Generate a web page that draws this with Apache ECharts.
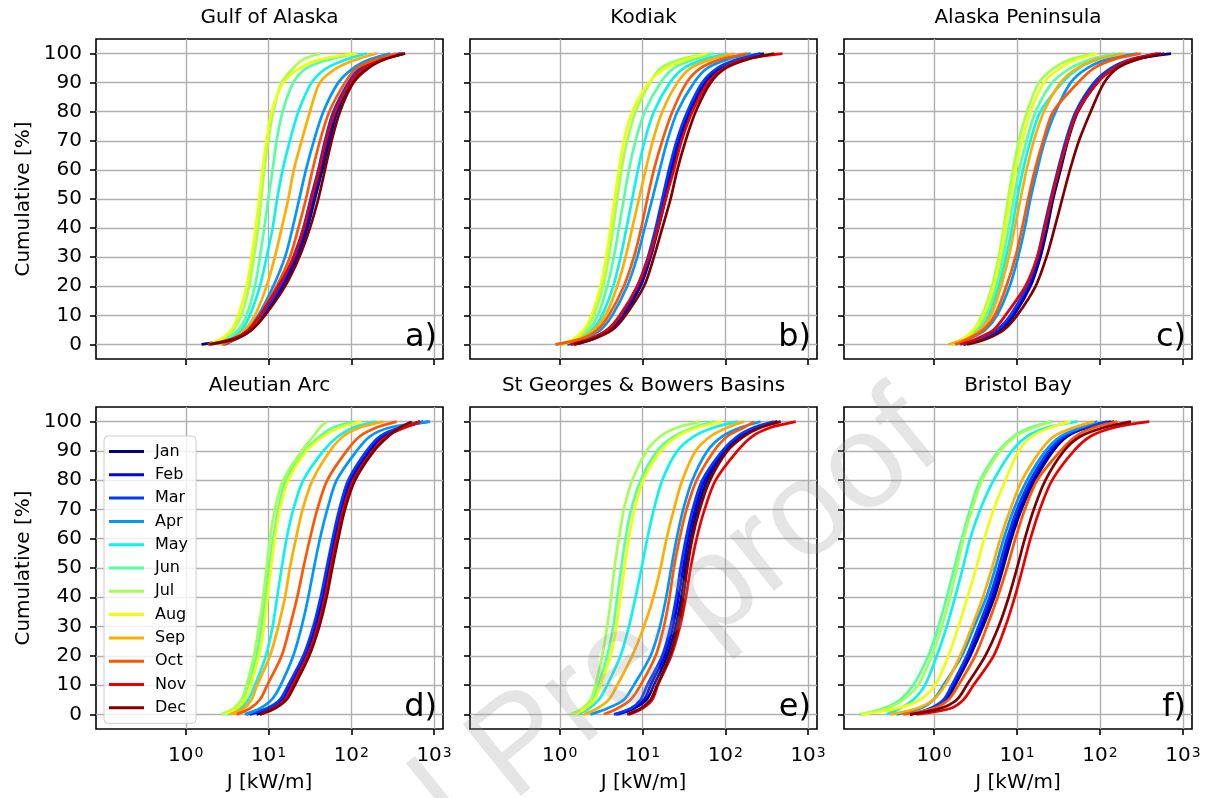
<!DOCTYPE html>
<html>
<head>
<meta charset="utf-8">
<script src="https://cdn.jsdelivr.net/npm/echarts@6/dist/echarts.min.js"></script>
<style>
html,body{margin:0;padding:0;background:#ffffff;}
#chart{width:1208px;height:798px;}
</style>
</head>
<body>
<div id="chart"></div>
<script>
// ---------------- data ----------------
const months = ['Jan','Feb','Mar','Apr','May','Jun','Jul','Aug','Sep','Oct','Nov','Dec'];
const cumulativeLevels = [0, 2, 5, 10, 20, 30, 40, 50, 60, 70, 80, 90, 95, 98, 100];
const xTickValues = [1, 10, 100, 1000];
const yTickValues = [0, 10, 20, 30, 40, 50, 60, 70, 80, 90, 100];
const panelTitles = ['Gulf of Alaska', 'Kodiak', 'Alaska Peninsula', 'Aleutian Arc', 'St Georges & Bowers Basins', 'Bristol Bay'];
const panelLetters = ['a)', 'b)', 'c)', 'd)', 'e)', 'f)'];

// J [kW/m] at each cumulative level, rows Jan..Dec
const gulfOfAlaska = [
  [1.55, 3.74, 5.94, 8.61, 15.0, 22.2, 29.4, 36.3, 44.6, 54.2, 67.7, 101, 153, 244, 426],
  [2.83, 4.10, 6.22, 8.61, 14.4, 21.4, 28.3, 34.7, 41.8, 51.3, 65.3, 96.4, 140, 222, 406],
  [2.96, 4.10, 5.94, 8.23, 13.7, 19.9, 26.3, 32.2, 39.9, 48.0, 60.6, 92.0, 127, 202, 388],
  [2.70, 3.74, 5.42, 7.50, 11.4, 15.8, 19.5, 23.5, 28.3, 35.3, 45.9, 69.6, 106, 168, 294],
  [2.35, 3.41, 4.71, 5.94, 7.85, 9.46, 11.2, 12.7, 14.8, 18.1, 22.9, 33.1, 50.3, 87.8, 153],
  [2.14, 3.10, 4.30, 5.42, 6.84, 7.85, 8.87, 9.91, 11.2, 12.5, 14.8, 19.9, 28.8, 55.2, 116],
  [2.04, 2.83, 3.74, 4.71, 5.83, 6.65, 7.50, 8.15, 8.87, 9.91, 11.4, 14.4, 19.9, 26.3, 41.8],
  [1.86, 2.70, 3.57, 4.30, 5.42, 6.22, 6.97, 7.71, 8.46, 9.46, 10.9, 15.0, 23.9, 41.8, 116],
  [2.58, 3.74, 5.17, 6.84, 9.46, 11.9, 14.4, 17.3, 20.2, 25.1, 31.6, 41.8, 66.5, 116, 202],
  [2.83, 4.10, 5.94, 7.85, 12.5, 18.1, 22.9, 28.3, 34.0, 41.8, 54.2, 83.8, 116, 202, 353],
  [1.86, 3.74, 5.68, 7.85, 13.1, 20.2, 26.7, 33.1, 41.0, 49.4, 63.4, 96.4, 142, 244, 446],
  [1.95, 4.10, 6.22, 9.03, 15.8, 23.5, 31.6, 39.9, 48.0, 57.8, 72.9, 106, 161, 255, 446]
];
const kodiak = [
  [1.48, 2.58, 4.10, 5.94, 9.46, 12.5, 15.5, 19.0, 23.1, 28.8, 38.1, 57.8, 87.8, 153, 294],
  [1.35, 2.46, 3.91, 5.68, 9.03, 12.2, 15.0, 18.1, 21.8, 27.0, 36.3, 55.2, 83.8, 146, 267],
  [1.23, 2.35, 3.74, 5.42, 8.61, 11.6, 14.4, 17.3, 20.8, 25.8, 34.7, 52.7, 80.0, 140, 267],
  [1.02, 1.95, 3.10, 4.30, 6.52, 8.61, 10.6, 13.1, 16.1, 19.9, 26.3, 41.8, 60.6, 106, 202],
  [0.887, 1.70, 2.46, 3.25, 4.42, 5.42, 6.40, 7.50, 8.79, 10.6, 13.7, 21.4, 31.6, 55.2, 106],
  [1.02, 1.62, 2.24, 2.88, 3.74, 4.50, 5.17, 5.94, 6.84, 8.23, 10.6, 16.5, 23.9, 41.8, 72.9],
  [1.12, 1.55, 2.04, 2.58, 3.34, 3.91, 4.42, 4.94, 5.57, 6.52, 8.23, 12.3, 16.5, 28.8, 60.6],
  [1.02, 1.48, 1.95, 2.42, 3.10, 3.63, 4.10, 4.58, 5.17, 5.94, 7.50, 11.9, 19.0, 34.7, 60.6],
  [0.929, 1.78, 2.58, 3.57, 4.94, 6.22, 7.50, 9.03, 10.9, 13.3, 17.3, 26.3, 38.1, 66.5, 127],
  [0.887, 1.86, 2.83, 3.91, 5.94, 7.85, 9.64, 11.4, 13.7, 17.3, 22.9, 34.0, 50.3, 87.8, 185],
  [1.35, 2.35, 3.74, 5.32, 8.61, 11.9, 15.3, 19.0, 23.9, 29.6, 39.9, 61.7, 96.4, 168, 490],
  [1.48, 2.58, 4.30, 6.22, 10.4, 13.7, 17.3, 21.8, 26.3, 33.1, 43.8, 66.5, 101, 185, 388]
];
const alaskaPeninsula = [
  [2.26, 3.95, 6.28, 9.12, 14.5, 19.1, 23.1, 27.2, 33.4, 41.0, 54.2, 92.9, 148, 258, 716],
  [2.26, 3.78, 6.00, 8.71, 13.8, 18.3, 22.0, 26.0, 31.9, 39.5, 52.2, 88.7, 141, 246, 542],
  [2.26, 3.60, 5.73, 8.30, 13.2, 17.5, 21.0, 25.3, 31.0, 38.5, 50.8, 84.6, 135, 235, 494],
  [1.88, 2.72, 4.14, 5.73, 8.15, 10.3, 12.4, 14.5, 17.5, 21.6, 29.1, 44.2, 70.3, 123, 283],
  [1.71, 2.48, 3.44, 4.54, 6.00, 7.36, 8.71, 10.0, 11.8, 14.5, 19.1, 35.0, 55.7, 92.9, 178],
  [1.64, 2.37, 3.28, 4.26, 5.62, 6.78, 7.93, 9.12, 10.6, 13.0, 16.7, 26.5, 44.2, 77.1, 148],
  [1.64, 2.26, 2.99, 3.78, 4.99, 6.00, 6.90, 7.78, 8.95, 10.5, 13.2, 18.3, 27.8, 44.2, 84.6],
  [1.56, 2.26, 2.99, 3.95, 5.22, 6.28, 7.23, 8.30, 9.55, 11.5, 14.5, 21.0, 33.4, 53.2, 92.9],
  [1.49, 2.48, 3.60, 4.84, 6.40, 7.93, 9.37, 11.0, 13.0, 15.9, 21.0, 33.4, 53.2, 92.9, 195],
  [1.79, 2.60, 3.88, 5.37, 7.43, 9.55, 11.5, 13.6, 16.4, 20.6, 27.2, 54.2, 84.6, 148, 310],
  [2.06, 3.28, 5.22, 7.23, 12.6, 17.5, 21.6, 26.0, 31.9, 40.3, 53.2, 92.9, 148, 246, 494],
  [2.48, 4.34, 6.90, 10.0, 16.7, 22.6, 28.3, 35.0, 43.4, 55.7, 77.1, 112, 162, 283, 594]
];
const aleutianArc = [
  [7.16, 10.9, 15.8, 19.3, 28.8, 38.1, 46.7, 54.2, 64.0, 77.1, 101, 168, 244, 426, 677],
  [5.94, 9.91, 14.4, 18.1, 27.5, 36.3, 44.6, 52.2, 61.7, 74.3, 96.4, 161, 233, 406, 743],
  [5.42, 9.46, 13.7, 17.3, 26.3, 34.7, 42.6, 50.3, 59.4, 71.6, 92.0, 153, 222, 388, 853],
  [5.17, 7.85, 10.9, 14.0, 19.9, 25.1, 30.2, 35.3, 41.8, 51.3, 66.5, 116, 168, 294, 895],
  [3.10, 4.50, 5.68, 6.84, 9.29, 11.2, 12.7, 14.4, 16.5, 19.9, 26.3, 45.9, 69.6, 106, 202],
  [2.83, 3.91, 4.94, 5.83, 7.16, 8.23, 9.20, 10.2, 11.4, 13.1, 16.2, 27.5, 41.8, 60.6, 106],
  [2.70, 3.74, 4.71, 5.42, 6.65, 7.64, 8.61, 9.46, 10.4, 11.9, 15.0, 25.1, 34.7, 41.8, 50.3],
  [2.96, 4.10, 5.17, 6.05, 7.64, 8.79, 9.72, 10.7, 11.9, 13.7, 17.3, 28.8, 45.9, 72.9, 133],
  [3.41, 4.94, 6.22, 7.29, 10.4, 13.1, 15.8, 18.1, 21.4, 25.8, 34.0, 55.2, 80.0, 127, 244],
  [4.10, 5.94, 7.85, 9.64, 14.4, 18.1, 22.2, 26.3, 31.6, 38.8, 51.3, 87.8, 127, 202, 353],
  [7.85, 11.4, 15.8, 19.5, 29.4, 39.2, 48.0, 56.2, 66.5, 80.0, 106, 181, 267, 446, 677],
  [7.85, 11.9, 16.5, 20.8, 31.0, 41.0, 50.3, 58.9, 69.6, 83.8, 111, 188, 281, 388, 537]
];
const stGeorgesBowers = [
  [4.94, 7.85, 11.2, 13.7, 19.9, 25.1, 29.4, 33.1, 38.1, 45.9, 60.6, 101, 153, 244, 426],
  [4.71, 7.50, 10.4, 12.5, 18.5, 23.3, 27.2, 31.0, 35.6, 43.0, 56.2, 96.4, 146, 233, 426],
  [4.50, 7.16, 9.46, 11.4, 17.3, 21.8, 25.5, 28.8, 33.4, 40.3, 52.7, 92.0, 140, 222, 388],
  [2.35, 3.74, 5.94, 7.85, 12.5, 16.2, 19.3, 22.2, 25.8, 31.0, 39.9, 60.6, 92.0, 153, 267],
  [1.62, 2.24, 2.96, 3.74, 5.42, 6.84, 8.23, 9.72, 11.4, 13.7, 17.3, 26.3, 41.8, 72.9, 140],
  [1.41, 1.95, 2.46, 2.91, 3.74, 4.42, 4.94, 5.52, 6.22, 7.29, 9.46, 15.0, 23.9, 41.8, 72.9],
  [1.35, 1.86, 2.35, 2.70, 3.25, 3.74, 4.18, 4.58, 5.17, 5.94, 7.50, 11.2, 16.5, 26.3, 50.3],
  [1.55, 2.04, 2.63, 3.10, 4.10, 4.84, 5.42, 6.05, 6.84, 8.00, 10.2, 16.5, 26.3, 45.9, 92.0],
  [1.95, 2.83, 3.91, 4.94, 7.50, 10.4, 13.5, 16.5, 19.5, 23.9, 30.2, 43.8, 66.5, 106, 168],
  [3.41, 4.94, 7.16, 9.46, 14.4, 18.1, 21.2, 23.9, 28.0, 34.0, 45.0, 72.9, 106, 168, 222],
  [6.84, 9.91, 13.1, 15.3, 22.2, 28.3, 33.4, 38.1, 45.0, 56.2, 76.4, 140, 212, 353, 710],
  [6.52, 9.46, 12.5, 15.0, 21.4, 26.7, 31.0, 34.7, 39.9, 49.0, 65.3, 106, 168, 267, 467]
];
const bristolBay = [
  [0.513, 0.982, 1.42, 1.79, 2.72, 3.88, 5.32, 6.78, 8.54, 11.3, 16.4, 27.2, 40.3, 70.3, 148],
  [0.513, 0.937, 1.36, 1.71, 2.60, 3.67, 4.99, 6.40, 8.07, 10.7, 15.5, 25.3, 38.5, 67.1, 135],
  [0.513, 0.895, 1.30, 1.64, 2.48, 3.44, 4.67, 6.00, 7.57, 10.0, 14.5, 24.2, 36.7, 64.0, 123],
  [0.353, 0.677, 0.982, 1.30, 2.16, 3.05, 4.26, 5.47, 6.90, 9.12, 13.2, 22.0, 33.4, 58.3, 92.9],
  [0.268, 0.388, 0.562, 0.778, 1.08, 1.42, 1.79, 2.22, 2.72, 3.60, 5.22, 8.71, 13.2, 23.1, 53.2],
  [0.127, 0.244, 0.388, 0.562, 0.853, 1.13, 1.42, 1.75, 2.16, 2.72, 3.60, 6.00, 9.12, 14.5, 26.5],
  [0.140, 0.268, 0.426, 0.646, 0.937, 1.24, 1.56, 1.88, 2.26, 2.86, 3.78, 6.28, 9.55, 15.9, 25.3],
  [0.133, 0.353, 0.677, 1.03, 1.49, 1.97, 2.53, 3.22, 4.03, 5.22, 7.23, 10.5, 15.2, 25.3, 44.2],
  [0.294, 0.617, 0.982, 1.36, 2.06, 2.86, 3.88, 4.99, 6.28, 8.30, 11.5, 19.1, 27.8, 48.4, 84.6],
  [0.426, 0.982, 1.49, 1.97, 3.13, 4.34, 5.83, 7.57, 9.55, 12.4, 17.5, 33.4, 50.8, 84.6, 162],
  [0.617, 1.56, 2.26, 2.99, 5.22, 7.23, 9.37, 11.7, 14.5, 18.8, 26.5, 48.4, 77.1, 148, 392],
  [0.513, 1.18, 1.88, 2.48, 4.14, 6.00, 7.93, 10.0, 12.4, 15.9, 22.0, 36.7, 58.3, 112, 235]
];
const panelData = [gulfOfAlaska, kodiak, alaskaPeninsula, aleutianArc, stGeorgesBowers, bristolBay];

// ---------------- styles / layout ----------------
const monthColors = ['#000080','#0000e9','#003aff','#0097ff','#0bf3ec','#56ffa1',
                     '#a1ff56','#ecff0b','#ffad00','#ff5700','#e90100','#800000'];
const FONT = '"DejaVu Sans", "Noto Sans", sans-serif';
const grids = [
  {left: 96,  top: 39,  width: 347, height: 320},
  {left: 470, top: 39,  width: 347, height: 320},
  {left: 844, top: 39,  width: 348, height: 320},
  {left: 96,  top: 407, width: 347, height: 322},
  {left: 470, top: 407, width: 347, height: 322},
  {left: 844, top: 407, width: 348, height: 322}
];
const X_MIN = 0.0822, X_MAX = 1282;

const option = {
  animation: false,
  backgroundColor: '#ffffff',
  grid: grids.map(g => Object.assign({
    show: true, borderColor: '#000', borderWidth: 1.6, backgroundColor: 'transparent',
    containLabel: false, outerBoundsMode: 'none'
  }, g)),
  xAxis: grids.map((g, i) => ({
    type: 'log', logBase: 10, gridIndex: i, min: X_MIN, max: X_MAX,
    axisLine: {show: false, onZero: false},
    axisTick: {show: true, length: 6, inside: false, customValues: xTickValues,
               lineStyle: {color: '#000', width: 1.6}},
    minorTick: {show: false},
    splitLine: {show: true, lineStyle: {color: '#b0b0b0', width: 1.4}},
    axisLabel: {
      show: i >= 3, customValues: xTickValues, margin: 17,
      color: '#000', fontSize: 20, fontFamily: FONT,
      formatter: v => '10{s|' + Math.round(Math.log10(v)) + '}',
      rich: {s: {fontSize: 14, fontFamily: FONT, color: '#000', verticalAlign: 'top', padding: [0, 0, 0, 1]}}
    },
    name: i >= 3 ? 'J [kW/m]' : '',
    nameLocation: 'middle', nameGap: 44,
    nameTextStyle: {fontSize: 20, fontFamily: FONT, color: '#000'}
  })),
  yAxis: grids.map((g, i) => ({
    type: 'value', gridIndex: i, min: -5, max: 105,
    axisLine: {show: false, onZero: false},
    axisTick: {show: true, length: 6, inside: false, customValues: yTickValues,
               lineStyle: {color: '#000', width: 1.6}},
    splitLine: {show: true, lineStyle: {color: '#b0b0b0', width: 1.4}},
    axisLabel: {
      show: i % 3 === 0, customValues: yTickValues, margin: 14,
      color: '#000', fontSize: 20, fontFamily: FONT
    },
    name: i % 3 === 0 ? 'Cumulative [%]' : '',
    nameLocation: 'middle', nameRotate: 90, nameGap: 62,
    nameTextStyle: {fontSize: 20, fontFamily: FONT, color: '#000'}
  })),
  legend: {
    data: months, orient: 'vertical', left: 104, top: 436,
    icon: 'rect', itemWidth: 35, itemHeight: 3, itemGap: 0.3,
    selectedMode: false,
    padding: [4, 8, 4, 5],
    borderColor: '#cccccc', borderWidth: 1, borderRadius: 4,
    backgroundColor: 'rgba(255,255,255,0.8)',
    textStyle: {fontSize: 16, fontFamily: FONT, color: '#000', lineHeight: 23, padding: [0, 0, 0, 6]},
    z: 20
  },
  graphic: [],
  series: []
};

panelData.forEach((panel, p) => {
  panel.forEach((vals, m) => {
    option.series.push({
      type: 'line', name: months[m], xAxisIndex: p, yAxisIndex: p,
      data: vals.map((j, k) => [j, cumulativeLevels[k]]),
      showSymbol: false, symbol: 'none',
      smooth: 0.3,
      lineStyle: {color: monthColors[m], width: 2.7},
      itemStyle: {color: monthColors[m]},
      emphasis: {disabled: true}, silent: true
    });
  });
});

grids.forEach((g, i) => {
  const top = g.top;
  option.graphic.push({
    type: 'text', x: g.left + g.width / 2, y: top - 21, silent: true,
    style: {text: panelTitles[i], fill: '#000', font: '20px ' + FONT, align: 'center', verticalAlign: 'middle'}
  });
  option.graphic.push({
    type: 'text', x: g.left + g.width - 6, y: top + g.height - 21, silent: true, z: 5,
    style: {text: panelLetters[i], fill: '#000', font: '32px ' + FONT, align: 'right', verticalAlign: 'middle'}
  });
});

// "Journal Pre-proof" watermark (two parts sharing one rotated baseline)
const wmFont = '134px "Liberation Sans", "DejaVu Sans", sans-serif';
const wmFill = 'rgba(150,150,150,0.25)';
const wmRot = 39 * Math.PI / 180;
option.graphic.push({
  type: 'text', x: 489, y: 774, rotation: wmRot, silent: true, z: 100,
  style: {text: 'Pre-proof', fill: wmFill, font: wmFont, align: 'left', verticalAlign: 'middle'}
});
option.graphic.push({
  type: 'text', x: 460, y: 797, rotation: wmRot, silent: true, z: 100,
  style: {text: 'Journal', fill: wmFill, font: wmFont, align: 'right', verticalAlign: 'middle'}
});

const chart = echarts.init(document.getElementById('chart'), null, {renderer: 'canvas'});
chart.setOption(option);
</script>
</body>
</html>
